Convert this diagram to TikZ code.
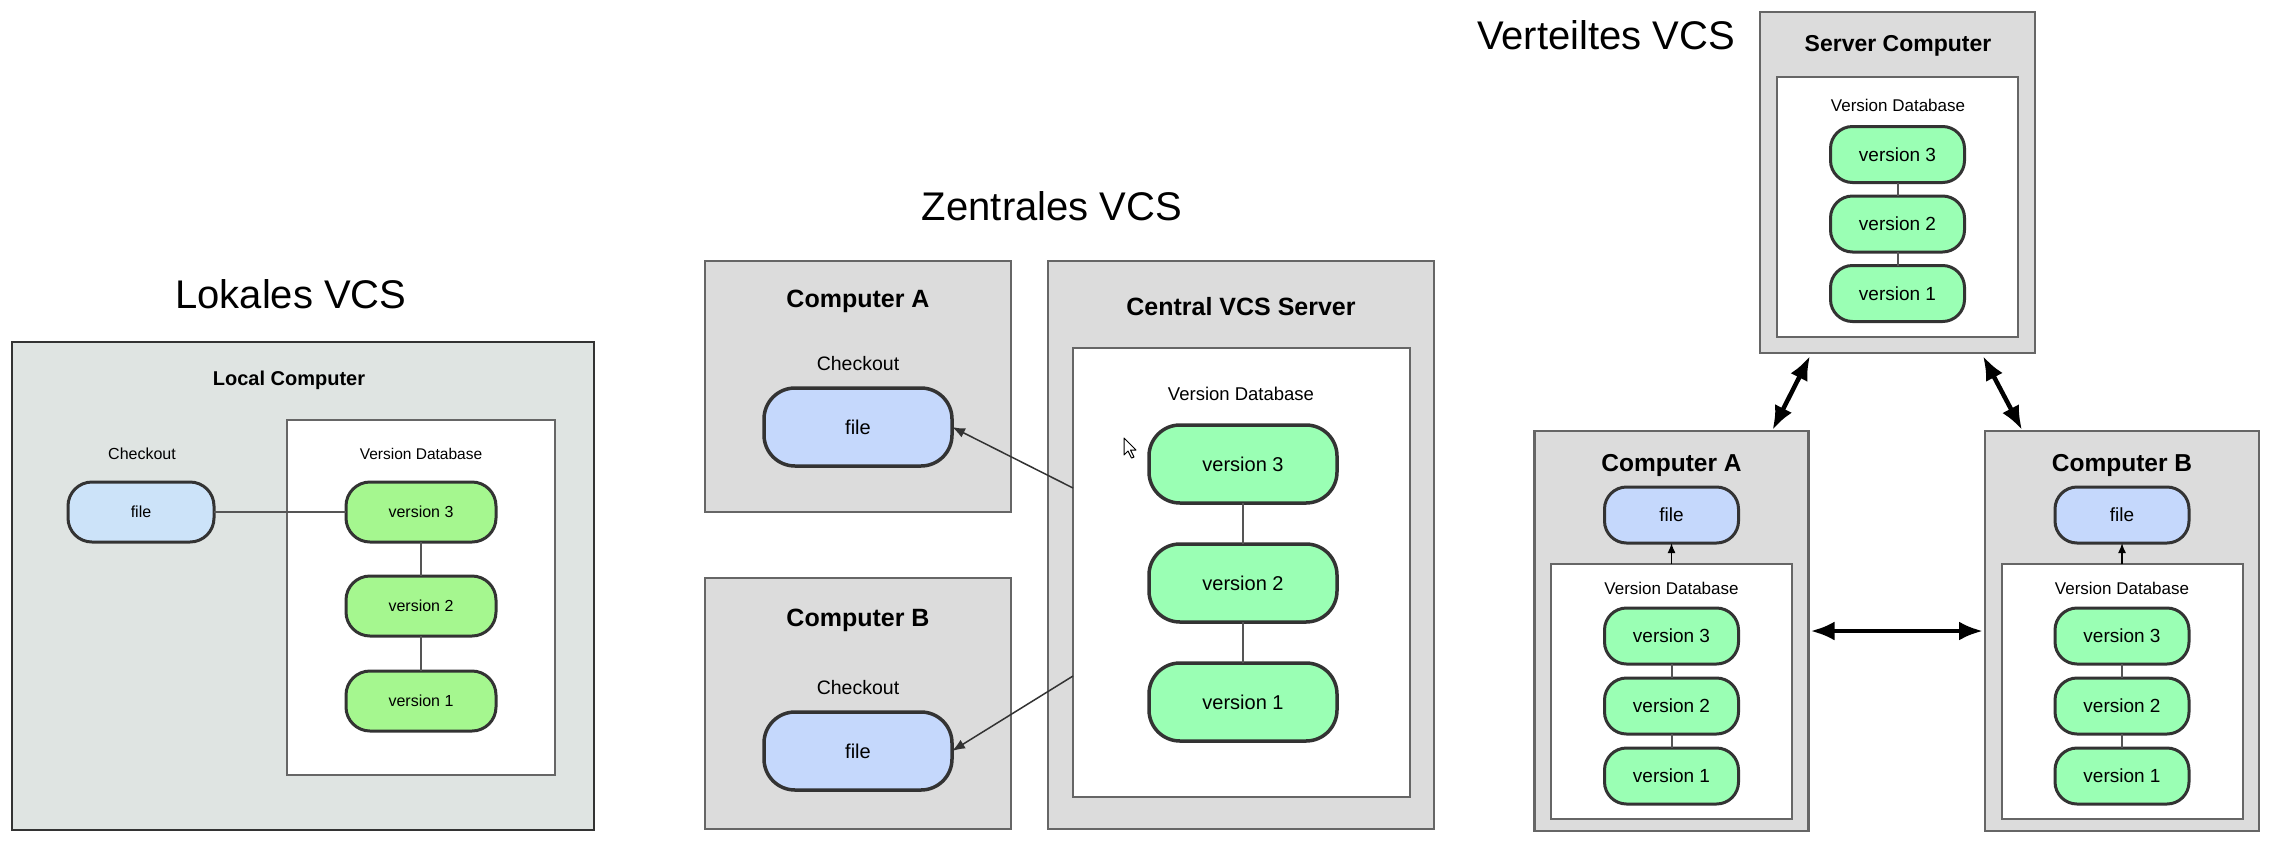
\documentclass[tikz,border=0pt]{standalone}
\usepackage{fontspec}
\setmainfont{Liberation Sans}
\usetikzlibrary{arrows.meta}
\definecolor{lbg}{HTML}{DFE4E2}
\definecolor{lfile}{HTML}{CCE3F9}
\definecolor{lgreen}{HTML}{A5F78F}
\definecolor{gbg}{HTML}{DCDCDC}
\definecolor{mfile}{HTML}{C5D8FC}
\definecolor{mgreen}{HTML}{9AFFB4}
\definecolor{edge}{HTML}{333333}
\definecolor{boxedge}{HTML}{666666}
\definecolor{linkgray}{HTML}{555555}
\begin{document}
\begin{tikzpicture}[x=1pt,y=-1pt,
  fs/.style={font=\fontsize{#1}{#1}\selectfont},
  fsb/.style={font=\fontsize{#1}{#1}\selectfont\bfseries},
  txt/.style={inner sep=0pt, text=black},
  title/.style={txt, fs=40},
  cont/.style={rectangle, inner sep=0pt, outer sep=0pt},
  lcbox/.style={cont, draw=edge, line width=2pt, fill=lbg},
  gbox/.style={cont, draw=boxedge, line width=2.2pt, fill=gbg},
  dbbox/.style={cont, draw=boxedge, line width=2pt, fill=white},
  pill/.style={rectangle, inner sep=0pt, outer sep=0pt, draw=edge},
  lpill/.style={pill, rounded corners=24pt, line width=3pt, minimum width=150pt, minimum height=60pt, fs=16},
  mpill/.style={pill, rounded corners=31pt, line width=3.5pt, minimum width=188pt, minimum height=78pt, fs=20},
  rpill/.style={pill, rounded corners=22pt, line width=3pt, minimum width=134pt, minimum height=56pt, fs=19},
  link/.style={draw=linkgray, line width=2pt},
  thinarrow/.style={draw=edge, line width=1.5pt, -{Latex[length=13pt,width=10pt]}},
  smallarrow/.style={draw=black, line width=1.5pt, -{Latex[length=10pt,width=8pt]}},
  bigarrow/.style={draw=black, line width=4.5pt, {Latex[length=24pt,width=19pt]}-{Latex[length=24pt,width=19pt]}}
]
\useasboundingbox (0,0) rectangle (2272,844);
\fill[white] (0,0) rectangle (2272,844);

% ---------------- Lokales VCS ----------------
\node[title] (t1) at (291,294) {Lokales VCS};
\node[lcbox, minimum width=582pt, minimum height=488pt] (lc) at (303,586) {};
\node[txt, fsb=20] (lclabel) at (289,380) {Local Computer};
\node[dbbox, minimum width=268pt, minimum height=355pt] (ldb) at (421,597.5) {};
\node[txt, fs=16] (lcheck) at (142,454) {Checkout};
\node[txt, fs=15.5] (ldblabel) at (421,454) {Version Database};
\node[lpill, fill=lfile, minimum width=146pt] (lfile) at (141,512) {file};
\node[lpill, fill=lgreen] (lv3) at (421,512) {version 3};
\node[lpill, fill=lgreen] (lv2) at (421,606) {version 2};
\node[lpill, fill=lgreen] (lv1) at (421,701) {version 1};
\draw[link] (lfile) -- (lv3);
\draw[link] (lv3) -- (lv2);
\draw[link] (lv2) -- (lv1);

% ---------------- Zentrales VCS ----------------
\node[title] (t2) at (1052,206) {Zentrales VCS};
\node[gbox, minimum width=306pt, minimum height=251pt] (mA) at (858,386.5) {};
\node[gbox, minimum width=306pt, minimum height=251pt] (mB) at (858,703.5) {};
\node[gbox, minimum width=386pt, minimum height=568pt] (srvc) at (1241,545) {};
\node[dbbox, minimum width=337pt, minimum height=449pt] (mdb) at (1241.5,572.5) {};
\node[txt, fsb=25] (mAlabel) at (858,301) {Computer A};
\node[txt, fs=19.5] (mAcheck) at (858,364) {Checkout};
\node[mpill, fill=mfile] (mfileA) at (858,427) {file};
\node[txt, fsb=25] (mBlabel) at (858,620) {Computer B};
\node[txt, fs=19.5] (mBcheck) at (858,688) {Checkout};
\node[mpill, fill=mfile] (mfileB) at (858,751) {file};
\node[txt, fsb=25] (srvclabel) at (1241,307) {Central VCS Server};
\node[txt, fs=18.5] (mdblabel) at (1241,394) {Version Database};
\node[mpill, fill=mgreen] (mv3) at (1243,464) {version 3};
\node[mpill, fill=mgreen] (mv2) at (1243,583) {version 2};
\node[mpill, fill=mgreen] (mv1) at (1243,702) {version 1};
\draw[link] (mv3) -- (mv2);
\draw[link] (mv2) -- (mv1);
\coordinate (mdbA) at ([yshift=84.5pt]mdb.west);
\coordinate (mdbB) at ([yshift=-103.5pt]mdb.west);
\draw[thinarrow] (mdbA) -- (mfileA.east);
\draw[thinarrow] (mdbB) -- (mfileB.east);
% mouse pointer
\draw[fill=white, line width=1pt, line join=round] (1124,438) -- ++(0,17) -- ++(4,-4) -- ++(3.5,7) -- ++(2.5,-1) -- ++(-3.5,-7) -- ++(5.5,0) -- cycle;

% ---------------- Verteiltes VCS ----------------
\node[title] (t3) at (1606,35) {Verteiltes VCS};
\node[gbox, minimum width=275pt, minimum height=341pt] (srv) at (1897.5,182.5) {};
\node[dbbox, minimum width=241pt, minimum height=260pt] (sdb) at (1897.5,207) {};
\node[txt, fsb=23] (srvlabel) at (1898,46) {Server Computer};
\node[txt, fs=17] (sdblabel) at (1898,105) {Version Database};
\node[rpill, fill=mgreen] (sv3) at (1897.5,154.5) {version 3};
\node[rpill, fill=mgreen] (sv2) at (1897.5,224) {version 2};
\node[rpill, fill=mgreen] (sv1) at (1897.5,293.5) {version 1};
\draw[link] (sv3) -- (sv2);
\draw[link] (sv2) -- (sv1);

\node[gbox, minimum width=274pt, minimum height=400pt] (rA) at (1671.5,631) {};
\node[dbbox, minimum width=241pt, minimum height=255pt] (rdbA) at (1671.5,691.5) {};
\node[txt, fsb=24.5] (rAlabel) at (1671.5,465) {Computer A};
\node[rpill, fill=mfile] (rfileA) at (1671.5,515) {file};
\node[txt, fs=17] (rdbAlabel) at (1671.5,588) {Version Database};
\node[rpill, fill=mgreen] (rAv3) at (1671.5,636) {version 3};
\node[rpill, fill=mgreen] (rAv2) at (1671.5,706) {version 2};
\node[rpill, fill=mgreen] (rAv1) at (1671.5,776) {version 1};
\draw[link] (rAv3) -- (rAv2);
\draw[link] (rAv2) -- (rAv1);
\draw[smallarrow] (rdbA.north) -- (rfileA.south);

\node[gbox, minimum width=274pt, minimum height=400pt] (rB) at (2122,631) {};
\node[dbbox, minimum width=241pt, minimum height=255pt] (rdbB) at (2122,691.5) {};
\node[txt, fsb=24.5] (rBlabel) at (2122,465) {Computer B};
\node[rpill, fill=mfile] (rfileB) at (2122,515) {file};
\node[txt, fs=17] (rdbBlabel) at (2122,588) {Version Database};
\node[rpill, fill=mgreen] (rBv3) at (2122,636) {version 3};
\node[rpill, fill=mgreen] (rBv2) at (2122,706) {version 2};
\node[rpill, fill=mgreen] (rBv1) at (2122,776) {version 1};
\draw[link] (rBv3) -- (rBv2);
\draw[link] (rBv2) -- (rBv1);
\draw[smallarrow] (rdbB.north) -- (rfileB.south);

\coordinate (srvL) at ([xshift=50pt,yshift=-3pt]srv.south west);
\coordinate (srvR) at ([xshift=-52pt,yshift=-3pt]srv.south east);
\coordinate (rAtop) at ([xshift=-36pt,yshift=1pt]rA.north east);
\coordinate (rBtop) at ([xshift=37pt,yshift=1pt]rB.north west);
\draw[bigarrow] (srvL) -- (rAtop);
\draw[bigarrow] (srvR) -- (rBtop);
\draw[bigarrow, shorten <=2pt, shorten >=2pt] (rA.east) -- (rB.west);
\end{tikzpicture}
\end{document}
